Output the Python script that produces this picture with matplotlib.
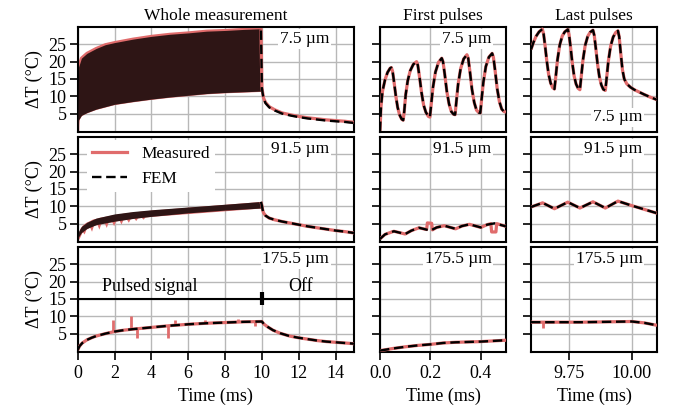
import matplotlib
matplotlib.use("Agg")
import matplotlib.pyplot as plt
from matplotlib.lines import Line2D
from matplotlib.ticker import FixedLocator, FormatStrFormatter

plt.rcParams["font.family"] = ["Liberation Serif", "DejaVu Serif"]
plt.rcParams["font.size"] = 13

MEAS_COLOR = "#e06c6c"
BAND_COLOR = "#2e1515"
GRID_COLOR = "#b8b8b8"

# ---- whole measurement: envelopes of the pulse train (0-10 ms) ----
pulse_t = [0.0, 0.05, 0.2, 0.5, 1.0, 1.5, 2.0, 3.0, 4.0, 5.0, 6.0, 7.0, 8.0, 9.0, 9.95]
upper_7 = [0.0, 18.5, 21.0, 22.4, 23.8, 24.9, 25.5, 26.5, 27.3, 27.9, 28.3, 28.8, 29.0, 29.3, 29.5]
lower_7 = [0.0, 3.2, 4.5, 5.3, 6.3, 7.0, 7.7, 8.5, 9.2, 9.8, 10.3, 10.8, 11.1, 11.3, 11.5]
upper_91 = [0.0, 2.8, 4.2, 5.4, 6.6, 7.2, 7.8, 8.5, 9.0, 9.4, 9.8, 10.2, 10.6, 11.0, 11.4]
lower_91 = [0.0, 1.2, 2.4, 3.6, 4.7, 5.2, 5.7, 6.5, 7.1, 7.6, 8.1, 8.5, 8.9, 9.2, 9.5]

# measured 91.5 um trace dips below the FEM band during the first ms
teeth_t = [0.0, 0.1, 0.25, 0.35, 0.45, 0.65, 0.75, 0.85, 1.05, 1.15, 1.25, 1.45, 1.55, 1.65,
           1.85, 1.95, 2.05, 2.25, 2.35, 2.45, 2.65, 2.75, 2.85, 3.05, 3.15, 3.25, 3.45, 3.55,
           3.65, 4.0, 9.95]
teeth_lo_91 = [0.0, 1.0, 2.7, 2.0, 3.4, 4.0, 2.8, 4.4, 4.75, 3.4, 4.95, 5.15, 3.9, 5.35,
               5.55, 4.4, 5.75, 5.95, 4.9, 6.1, 6.25, 5.4, 6.4, 6.55, 5.9, 6.65, 6.8, 6.3,
               6.9, 7.1, 9.5]
teeth_hi_91 = [0.0, 3.5, 4.6, 5.0, 5.4, 5.9, 6.2, 6.4, 6.6, 6.8, 6.9, 7.1, 7.2, 7.3,
               7.5, 7.6, 7.7, 7.8, 7.9, 8.0, 8.1, 8.2, 8.3, 8.4, 8.45, 8.5, 8.6, 8.65,
               8.7, 8.9, 11.4]

# ---- cooling after the pulse train ----
cool_t = [9.95, 10.0, 10.04, 10.09, 10.2, 10.4, 10.7, 11.1, 11.6, 12.0, 12.5, 13.0, 13.5, 14.0, 14.5, 15.0]
cool_7_fem = [29.0, 12.4, 10.9, 9.3, 8.0, 6.8, 5.9, 5.0, 4.4, 4.0, 3.6, 3.3, 3.0, 2.8, 2.6, 2.3]
cool_7_meas = [29.3, 12.6, 11.1, 9.5, 8.2, 7.0, 6.1, 5.2, 4.6, 4.2, 3.8, 3.5, 3.2, 3.0, 2.8, 2.5]
cool_91 = [11.3, 10.2, 9.0, 8.1, 7.3, 6.6, 6.1, 5.6, 5.1, 4.7, 4.2, 3.8, 3.4, 3.0, 2.7, 2.3]

# ---- 175.5 um: smooth trace over the whole measurement ----
whole_175_t = [0.0, 0.1, 0.25, 0.5, 0.75, 1.0, 1.5, 2.0, 2.5, 3.0, 4.0, 5.0, 6.0, 7.0, 8.0, 9.0,
               10.0, 10.1, 10.3, 10.6, 11.0, 11.5, 12.0, 12.5, 13.0, 13.5, 14.0, 14.5, 15.0]
whole_175 = [0.3, 1.4, 2.3, 3.2, 3.8, 4.3, 5.0, 5.6, 6.0, 6.3, 6.8, 7.3, 7.7, 8.0, 8.2, 8.4,
             8.5, 7.8, 7.0, 6.0, 5.1, 4.3, 3.8, 3.4, 3.0, 2.7, 2.5, 2.3, 2.1]
spike_175_t = [1.9, 2.9, 3.2, 4.9, 5.3, 6.9, 8.7, 9.6]
spike_175_base = [5.5, 6.3, 6.4, 7.2, 7.4, 8.0, 8.3, 8.4]
spike_175_tip = [9.0, 10.2, 3.8, 3.8, 8.9, 8.9, 9.3, 7.3]

# ---- first pulses ----
first_7_t = [0.000, 0.004, 0.010, 0.020, 0.030, 0.040, 0.045, 0.050, 0.056, 0.063, 0.070, 0.078,
             0.086, 0.092, 0.096, 0.102, 0.110, 0.120, 0.132, 0.145, 0.150, 0.157, 0.165, 0.173,
             0.182, 0.192, 0.198, 0.203, 0.210, 0.220, 0.232, 0.245, 0.250, 0.257, 0.265, 0.274,
             0.283, 0.292, 0.298, 0.303, 0.310, 0.320, 0.332, 0.345, 0.350, 0.357, 0.365, 0.374,
             0.383, 0.392, 0.398, 0.403, 0.410, 0.420, 0.432, 0.445, 0.450, 0.457, 0.465, 0.474,
             0.483, 0.492, 0.500]
first_7 = [0.0, 7.0, 11.5, 14.8, 16.9, 18.1, 18.3, 17.2, 14.0, 10.0, 6.8, 4.6,
           3.4, 3.1, 5.5, 10.5, 14.5, 17.4, 19.2, 20.0, 19.0, 15.5, 11.0, 7.5,
           5.4, 4.2, 4.0, 7.5, 12.5, 17.0, 19.8, 21.0, 20.0, 16.3, 11.5, 7.8,
           5.6, 4.8, 4.7, 8.5, 13.5, 18.0, 20.8, 22.0, 21.0, 17.0, 12.0, 8.2,
           6.0, 5.3, 5.2, 9.0, 14.0, 18.6, 21.3, 22.4, 21.3, 17.3, 12.2, 8.4,
           6.3, 5.6, 5.4]

first_91_t = [0.0, 0.02, 0.055, 0.1, 0.125, 0.155, 0.2, 0.225, 0.255, 0.3, 0.325, 0.355,
              0.4, 0.425, 0.455, 0.5]
first_91_fem = [0.6, 1.9, 2.8, 2.0, 3.0, 3.8, 3.0, 3.9, 4.4, 3.5, 4.3, 4.8,
                3.9, 4.7, 5.1, 4.2]
first_91_meas_t = [0.0, 0.02, 0.055, 0.1, 0.125, 0.155, 0.185, 0.188, 0.205, 0.208, 0.225, 0.255,
                   0.3, 0.325, 0.355, 0.4, 0.425, 0.44, 0.443, 0.46, 0.463, 0.5]
first_91_meas = [0.6, 1.9, 2.8, 2.0, 3.0, 3.8, 3.3, 5.2, 5.1, 3.2, 3.9, 4.4,
                 3.5, 4.3, 4.8, 3.9, 4.7, 5.0, 2.6, 2.6, 5.0, 4.2]

first_175_t = [0.0, 0.05, 0.1, 0.15, 0.2, 0.25, 0.3, 0.35, 0.4, 0.45, 0.5]
first_175 = [0.1, 0.7, 1.2, 1.6, 1.9, 2.3, 2.5, 2.6, 2.7, 2.9, 3.1]

# ---- last pulses ----
last_7_t = [9.600, 9.610, 9.620, 9.632, 9.645, 9.650, 9.656, 9.663, 9.670, 9.678, 9.686, 9.693,
            9.698, 9.705, 9.714, 9.724, 9.734, 9.746, 9.751, 9.757, 9.764, 9.771, 9.779, 9.787,
            9.794, 9.799, 9.806, 9.815, 9.825, 9.835, 9.846, 9.851, 9.857, 9.864, 9.871, 9.879,
            9.887, 9.895, 9.900, 9.907, 9.916, 9.926, 9.936, 9.945, 9.950, 9.956, 9.963, 9.970,
            9.980, 9.995, 10.010, 10.030, 10.050, 10.075, 10.100]
last_7 = [23.5, 25.6, 27.3, 28.6, 29.4, 28.0, 24.5, 20.0, 16.3, 13.8, 12.5, 12.1,
          15.5, 20.5, 24.8, 27.4, 28.6, 29.3, 27.8, 24.2, 19.6, 15.9, 13.5, 12.3,
          11.9, 15.4, 20.4, 24.7, 27.3, 28.5, 29.1, 27.6, 24.0, 19.4, 15.8, 13.3,
          12.0, 11.7, 15.2, 20.2, 24.5, 27.1, 28.4, 28.9, 27.2, 22.5, 17.6, 15.0,
          13.6, 12.6, 11.9, 11.2, 10.5, 9.7, 9.0]

last_91_t = [9.6, 9.646, 9.693, 9.746, 9.794, 9.846, 9.895, 9.945, 10.0, 10.05, 10.1]
last_91 = [9.8, 11.0, 9.3, 11.2, 9.5, 11.3, 9.5, 11.5, 10.2, 9.1, 8.0]

last_175_t = [9.6, 9.7, 9.8, 9.9, 10.0, 10.05, 10.1]
last_175 = [8.3, 8.3, 8.3, 8.4, 8.5, 8.1, 7.4]

depth_labels = ["7.5 µm", "91.5 µm", "175.5 µm"]
column_titles = ["Whole measurement", "First pulses", "Last pulses"]

# axes geometry in pixels (left, top, width, height)
col_left = [77.7, 380.0, 531.0]
col_width = [276.3, 126.0, 126.0]
row_top = [27.0, 137.0, 247.0]
row_height = 105.0
W, H = 675.0, 416.0

fig = plt.figure(figsize=(W / 100, H / 100), dpi=100)
axes = [[None] * 3 for _ in range(3)]
for r in range(3):
    for c in range(3):
        rect = [col_left[c] / W, 1 - (row_top[r] + row_height) / H, col_width[c] / W, row_height / H]
        axes[r][c] = fig.add_axes(rect)


def fem(ax, t, v):
    ax.plot(t, v, color="black", lw=1.7, ls=(0, (4, 2)), zorder=4)


def meas(ax, t, v):
    ax.plot(t, v, color=MEAS_COLOR, lw=2.3, zorder=3, solid_capstyle="butt")


# row 0: 7.5 um
ax = axes[0][0]
ax.plot(pulse_t, upper_7, color=MEAS_COLOR, lw=2.2, zorder=2)
ax.plot(pulse_t, lower_7, color=MEAS_COLOR, lw=1.2, zorder=2)
ax.fill_between(pulse_t, lower_7, upper_7, color=BAND_COLOR, lw=0, zorder=3)
meas(axes[0][0], cool_t, cool_7_meas)
fem(axes[0][0], cool_t, cool_7_fem)
meas(axes[0][1], first_7_t, first_7)
fem(axes[0][1], first_7_t, first_7)
meas(axes[0][2], last_7_t, last_7)
fem(axes[0][2], last_7_t, last_7)

# row 1: 91.5 um
ax = axes[1][0]
ax.fill_between(teeth_t, teeth_lo_91, teeth_hi_91, color=MEAS_COLOR, lw=0, zorder=2)
ax.fill_between(pulse_t, lower_91, upper_91, color=BAND_COLOR, lw=0, zorder=3)
meas(ax, cool_t, cool_91)
fem(ax, cool_t, cool_91)
meas(axes[1][1], first_91_meas_t, first_91_meas)
fem(axes[1][1], first_91_t, first_91_fem)
meas(axes[1][2], last_91_t, last_91)
fem(axes[1][2], last_91_t, last_91)

# row 2: 175.5 um
ax = axes[2][0]
meas(ax, whole_175_t, whole_175)
ax.vlines(spike_175_t, spike_175_base, spike_175_tip, color=MEAS_COLOR, lw=2.0, zorder=3)
fem(ax, whole_175_t, whole_175)
meas(axes[2][1], first_175_t, first_175)
fem(axes[2][1], first_175_t, first_175)
meas(axes[2][2], last_175_t, last_175)
axes[2][2].vlines([9.646], [8.3], [6.6], color=MEAS_COLOR, lw=2.0, zorder=3)
fem(axes[2][2], last_175_t, last_175)

# pulse timing bar
ax = axes[2][0]
ax.plot([0, 15], [15, 15], color="black", lw=1.5, zorder=5, clip_on=False)
ax.plot([0, 0], [13.3, 17.1], color="black", lw=1.2, zorder=5, clip_on=False)
ax.plot([10, 10], [13.3, 17.1], color="black", lw=3.0, zorder=5, solid_capstyle="butt")
ax.text(3.9, 18.6, "Pulsed signal", ha="center", va="center", fontsize=13)
ax.text(12.1, 18.6, "Off", ha="center", va="center", fontsize=13)

xlims = [(0, 15), (0, 0.5), (9.6, 10.1)]
xticks = [list(range(0, 15, 2)), [0.0, 0.2, 0.4], [9.75, 10.0]]
xfmt = ["%d", "%.1f", "%.2f"]

for r in range(3):
    for c in range(3):
        ax = axes[r][c]
        ax.set_xlim(*xlims[c])
        ax.set_ylim(-0.3, 30)
        ax.set_axisbelow(True)
        ax.yaxis.set_major_locator(FixedLocator([5, 10, 15, 20, 25]))
        ax.xaxis.set_major_locator(FixedLocator(xticks[c]))
        ax.xaxis.set_major_formatter(FormatStrFormatter(xfmt[c]))
        ax.grid(True, color=GRID_COLOR, lw=1.0)
        for s in ax.spines.values():
            s.set_linewidth(1.5)
        ax.tick_params(axis="y", direction="out", length=6, width=1.2, labelsize=13,
                       labelleft=(c == 0), pad=2)
        ax.tick_params(axis="x", direction="out", length=6, width=1.2, labelsize=13,
                       bottom=(r == 2), labelbottom=(r == 2))
        if c == 0:
            ax.set_ylabel("ΔT (°C)", fontsize=13)
        if r == 0:
            ax.set_title(column_titles[c], fontsize=12.5, pad=5)
        if r == 2:
            ax.set_xlabel("Time (ms)", fontsize=13)

        label_x = 0.91 if c == 0 else 0.885
        label_y = 0.14 if (r == 0 and c == 2) else 0.885
        ax.text(label_x, label_y, depth_labels[r], transform=ax.transAxes, ha="right", va="center",
                fontsize=12.5, zorder=6,
                bbox=dict(boxstyle="square,pad=0.1", facecolor="white", edgecolor="none"))

# legend on the middle-left panel
handles = [Line2D([], [], color=MEAS_COLOR, lw=2.3),
           Line2D([], [], color="black", lw=1.7, ls=(0, (4, 2)))]
leg = axes[1][0].legend(handles, ["Measured", "FEM"], loc="upper left",
                        bbox_to_anchor=(0.022, 1.0), fontsize=12.5,
                        frameon=True, fancybox=False, borderaxespad=0.2, borderpad=0.3,
                        handlelength=2.0)
leg.get_frame().set_facecolor("white")
leg.get_frame().set_edgecolor("none")
leg.get_frame().set_alpha(1.0)
leg.set_zorder(7)

fig.savefig("out.png", dpi=100)
